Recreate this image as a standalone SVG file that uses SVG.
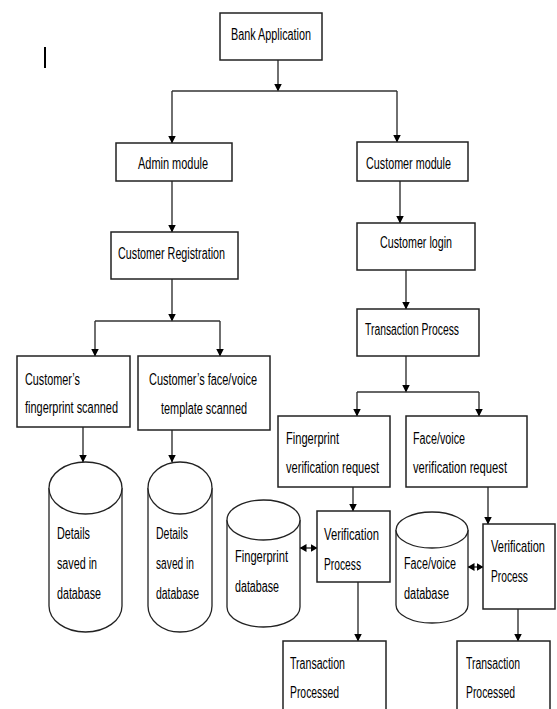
<svg xmlns="http://www.w3.org/2000/svg" width="557" height="709" viewBox="0 0 557 709">
<style>
.box{fill:#fff;stroke:#222;stroke-width:1.5}
.cyl{fill:#fff;stroke:#222;stroke-width:1.3}
.t{font-family:"Liberation Sans",Arial,sans-serif;font-size:16px;fill:#000}
.c{stroke:#333;stroke-width:1.4;fill:none}
.a{marker-end:url(#ah)}
.d{marker-end:url(#ah2);marker-start:url(#ah2s)}
</style>
<defs>
<marker id="ah" markerWidth="8" markerHeight="10" refX="7.5" refY="5" orient="auto" markerUnits="userSpaceOnUse" viewBox="0 0 8 10">
<path d="M0,1 L8,5 L0,9 Z" fill="#000"/>
</marker>
<marker id="ah2" markerWidth="7" markerHeight="8" refX="6.5" refY="4" orient="auto" markerUnits="userSpaceOnUse" viewBox="0 0 7 8">
<path d="M0,0 L7,4 L0,8 Z" fill="#000"/>
</marker>
<marker id="ah2s" markerWidth="7" markerHeight="8" refX="0.5" refY="4" orient="auto" markerUnits="userSpaceOnUse" viewBox="0 0 7 8">
<path d="M7,0 L0,4 L7,8 Z" fill="#000"/>
</marker>
</defs>
<rect width="557" height="709" fill="#fff"/>
<line x1="45" y1="47" x2="45" y2="68" stroke="#000" stroke-width="2"/>

<g id="connectors">
<line class="c a" x1="278" y1="60" x2="278" y2="91"/>
<path class="c" d="M172,91 H397"/>
<line class="c a" x1="172" y1="91" x2="172" y2="143"/>
<line class="c a" x1="397" y1="91" x2="397" y2="142"/>
<line class="c a" x1="172" y1="181" x2="172" y2="232"/>
<line class="c a" x1="400" y1="181" x2="400" y2="223"/>
<line class="c a" x1="172" y1="279" x2="172" y2="321"/>
<path class="c" d="M95,321 H220"/>
<line class="c a" x1="95" y1="321" x2="95" y2="356"/>
<line class="c a" x1="220" y1="321" x2="220" y2="356"/>
<line class="c a" x1="83" y1="427" x2="83" y2="462"/>
<line class="c a" x1="172" y1="430" x2="172" y2="462"/>
<line class="c a" x1="406" y1="270" x2="406" y2="309"/>
<line class="c a" x1="406" y1="356" x2="406" y2="392"/>
<path class="c" d="M357,392 H479"/>
<line class="c a" x1="357" y1="392" x2="357" y2="416"/>
<line class="c a" x1="479" y1="392" x2="479" y2="416"/>
<line class="c a" x1="353" y1="487" x2="353" y2="511"/>
<line class="c a" x1="488" y1="487" x2="488" y2="524"/>
<line class="c a" x1="358" y1="582" x2="358" y2="641"/>
<line class="c a" x1="518" y1="609" x2="518" y2="641"/>
<line class="c d" x1="300" y1="548" x2="317" y2="548"/>
<line class="c d" x1="468" y1="567" x2="483" y2="567"/>
</g>

<g id="bank">
<rect class="box" x="220" y="13" width="102" height="47"/>
<text class="t" x="231" y="40" textLength="80" lengthAdjust="spacingAndGlyphs">Bank Application</text>
</g>
<g id="admin">
<rect class="box" x="116" y="143" width="116" height="38"/>
<text class="t" x="138" y="169" textLength="70" lengthAdjust="spacingAndGlyphs">Admin module</text>
</g>
<g id="custmodule">
<rect class="box" x="357" y="142" width="111" height="39"/>
<text class="t" x="366" y="169" textLength="85" lengthAdjust="spacingAndGlyphs">Customer module</text>
</g>
<g id="custreg">
<rect class="box" x="111" y="232" width="127" height="47"/>
<text class="t" x="118" y="259" textLength="107" lengthAdjust="spacingAndGlyphs">Customer Registration</text>
</g>
<g id="custlogin">
<rect class="box" x="357" y="223" width="118" height="47"/>
<text class="t" x="380" y="248" textLength="72" lengthAdjust="spacingAndGlyphs">Customer login</text>
</g>
<g id="transproc">
<rect class="box" x="357" y="309" width="122" height="47"/>
<text class="t" x="365" y="335" textLength="94" lengthAdjust="spacingAndGlyphs">Transaction Process</text>
</g>
<g id="fpscan">
<rect class="box" x="17" y="356" width="113" height="71"/>
<text class="t" x="25" y="385" textLength="55" lengthAdjust="spacingAndGlyphs">Customer’s</text>
<text class="t" x="25" y="413" textLength="93" lengthAdjust="spacingAndGlyphs">fingerprint scanned</text>
</g>
<g id="facescan">
<rect class="box" x="138" y="356" width="132" height="74"/>
<text class="t" x="149" y="385" textLength="108" lengthAdjust="spacingAndGlyphs">Customer’s face/voice</text>
<text class="t" x="161" y="414" textLength="86" lengthAdjust="spacingAndGlyphs">template scanned</text>
</g>
<g id="fpreq">
<rect class="box" x="278" y="416" width="112" height="71"/>
<text class="t" x="286" y="444" textLength="53" lengthAdjust="spacingAndGlyphs">Fingerprint</text>
<text class="t" x="286" y="473" textLength="93" lengthAdjust="spacingAndGlyphs">verification request</text>
</g>
<g id="facereq">
<rect class="box" x="406" y="416" width="121" height="71"/>
<text class="t" x="413" y="444" textLength="52" lengthAdjust="spacingAndGlyphs">Face/voice</text>
<text class="t" x="413" y="473" textLength="94" lengthAdjust="spacingAndGlyphs">verification request</text>
</g>
<g id="verif1">
<rect class="box" x="317" y="511" width="73" height="71"/>
<text class="t" x="324" y="540" textLength="55" lengthAdjust="spacingAndGlyphs">Verification</text>
<text class="t" x="324" y="570" textLength="37" lengthAdjust="spacingAndGlyphs">Process</text>
</g>
<g id="verif2">
<rect class="box" x="483" y="524" width="72" height="85"/>
<text class="t" transform="translate(491,552) scale(0.69,1)">Verification</text>
<text class="t" transform="translate(491,582) scale(0.64,1)">Process</text>
</g>
<g id="tp1">
<rect class="box" x="283" y="641" width="103" height="80"/>
<text class="t" x="290" y="669" textLength="55" lengthAdjust="spacingAndGlyphs">Transaction</text>
<text class="t" x="290" y="698" textLength="49" lengthAdjust="spacingAndGlyphs">Processed</text>
</g>
<g id="tp2">
<rect class="box" x="457" y="641" width="93" height="80"/>
<text class="t" x="466" y="669" textLength="54" lengthAdjust="spacingAndGlyphs">Transaction</text>
<text class="t" x="466" y="698" textLength="49" lengthAdjust="spacingAndGlyphs">Processed</text>
</g>

<g id="db1">
<path class="cyl" d="M49,488 V606 A36.5,26 0 0 0 122,606 V488"/>
<ellipse class="cyl" cx="85.5" cy="488" rx="36.5" ry="26"/>
<text class="t" x="57" y="539" textLength="33" lengthAdjust="spacingAndGlyphs">Details</text>
<text class="t" x="57" y="569" textLength="40" lengthAdjust="spacingAndGlyphs">saved in</text>
<text class="t" x="57" y="599" textLength="44" lengthAdjust="spacingAndGlyphs">database</text>
</g>
<g id="db2">
<path class="cyl" d="M148,488 V606 A32,26 0 0 0 212,606 V488"/>
<ellipse class="cyl" cx="180" cy="488" rx="32" ry="26"/>
<text class="t" x="156" y="539" textLength="32" lengthAdjust="spacingAndGlyphs">Details</text>
<text class="t" x="156" y="569" textLength="38" lengthAdjust="spacingAndGlyphs">saved in</text>
<text class="t" x="156" y="599" textLength="43" lengthAdjust="spacingAndGlyphs">database</text>
</g>
<g id="fpdb">
<path class="cyl" d="M227,520 V607 A36.5,20 0 0 0 300,607 V520"/>
<ellipse class="cyl" cx="263.5" cy="520" rx="36.5" ry="20"/>
<text class="t" x="235" y="562" textLength="53" lengthAdjust="spacingAndGlyphs">Fingerprint</text>
<text class="t" x="235" y="592" textLength="44" lengthAdjust="spacingAndGlyphs">database</text>
</g>
<g id="facedb">
<path class="cyl" d="M396,530 V605 A36,18 0 0 0 468,605 V530"/>
<ellipse class="cyl" cx="432" cy="530" rx="36" ry="18"/>
<text class="t" x="404" y="569" textLength="52" lengthAdjust="spacingAndGlyphs">Face/voice</text>
<text class="t" x="404" y="599" textLength="45" lengthAdjust="spacingAndGlyphs">database</text>
</g>
</svg>
